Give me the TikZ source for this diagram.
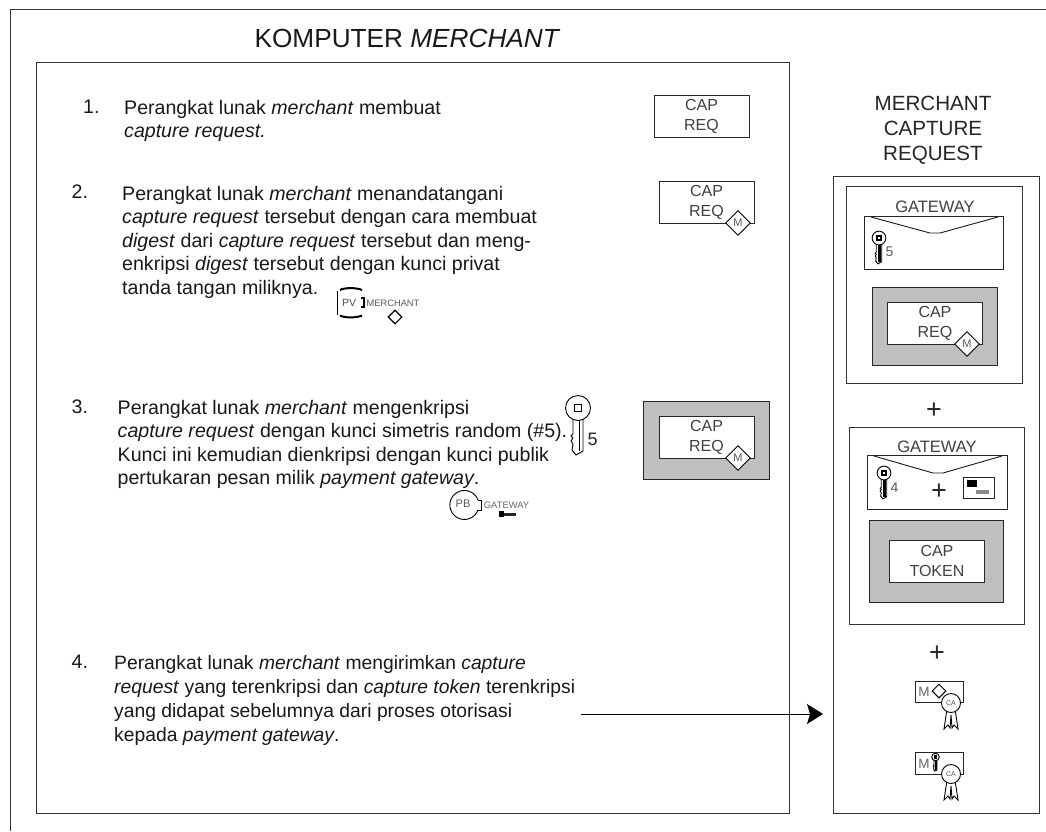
\documentclass[tikz,border=0pt]{standalone}
\usepackage{fontspec}
\setmainfont{Liberation Sans}
\usetikzlibrary{arrows.meta,shapes.geometric}
\tikzset{
  x=1pt,y=-1pt,
  frame/.style={draw=black!80,line width=1pt},
  body/.style={font=\fontsize{19.6}{23.4}\selectfont,align=left,anchor=north west,inner sep=0pt,text=black!90},
  num/.style={font=\fontsize{19.6}{23.4}\selectfont,anchor=west,inner sep=0pt,text=black!90},
  lab/.style={font=\fontsize{16.5}{20}\selectfont,align=center,inner sep=0pt,text=black!75},
  box/.style={draw=black!85,line width=.9pt,fill=white,minimum width=#1,inner sep=0pt},
  capbox/.style={draw=black!85,line width=.9pt,fill=white,inner sep=0pt,minimum width=95pt,minimum height=42pt,align=center,font=\fontsize{16}{20}\selectfont,text=black!75},
  shade/.style={draw=black!85,line width=.9pt,fill=black!25},
  sigmark/.style={diamond,aspect=1,draw=black,line width=.9pt,fill=white,inner sep=0pt,minimum size=25pt,font=\fontsize{11}{11}\selectfont,text=black!65},
  keyline/.style={draw=black,line width=.9pt,fill=white},
  plussign/.style={font=\fontsize{27}{27}\selectfont,text=black!85,inner sep=0pt},
}
% key: \keyicon{x}{y}{scale}{inner line width}
\newcommand{\keyicon}[4]{%
 \begin{scope}[shift={(#1,#2)},scale=#3]
  \draw[keyline] (-5,10) -- (-5,26) -- (-7,28) -- (-5,30) -- (-7,33) -- (-5,36) -- (-6,42) -- (-2,47) -- (5,43) -- (5,10) -- cycle;
  \draw[black,line width=#4] (1,12) -- (1,43);
  \draw[keyline] (0,0) circle (12.5);
  \draw[keyline,line width=1.2pt] (-3.5,-3.5) rectangle (3.5,3.5);
 \end{scope}}
\newcommand{\ribbon}[2]{%
 \begin{scope}[shift={(#1,#2)}]
  \draw[line width=.9pt,fill=white] (-4,6) -- (-7,26) -- (-3,22) -- (-1,25) -- (0,12) -- (1,25) -- (3,22) -- (7,26) -- (4,6) -- cycle;
 \end{scope}}
\begin{document}
\begin{tikzpicture}
\useasboundingbox (0,0) rectangle (1046,831);
\fill[white] (0,0) rectangle (1046,831);
% outer frame: left and top edges only
\draw[frame] (10,831) -- (10,9.5) -- (1046,9.5);
\node[font=\fontsize{26.2}{30}\selectfont,text=black!90,inner sep=0pt] (title) at (407.5,38) {KOMPUTER \textit{MERCHANT}};
\node[frame,minimum width=753pt,minimum height=751pt,anchor=north west,inner sep=0pt] (main) at (36,62) {};
% steps
\node[num] (n1) at (83,107) {1.};
\node[body] (t1) at (124,100) {Perangkat lunak \textit{merchant} membuat\\\textit{capture request.}};
\node[num] (n2) at (71.5,192) {2.};
\node[body] (t2) at (122,186) {Perangkat lunak \textit{merchant} menandatangani\\\textit{capture request} tersebut dengan cara membuat\\\textit{digest} dari \textit{capture request} tersebut dan meng-\\enkripsi \textit{digest} tersebut dengan kunci privat\\tanda tangan miliknya.};
\node[num] (n3) at (71.5,407) {3.};
\node[body] (t3) at (117.5,400) {Perangkat lunak \textit{merchant} mengenkripsi\\\textit{capture request} dengan kunci simetris random (\#5).\\Kunci ini kemudian dienkripsi dengan kunci publik\\pertukaran pesan milik \textit{payment gateway}.};
\node[num] (n4) at (71.5,662) {4.};
\node[body,font=\fontsize{19.3}{24}\selectfont] (t4) at (114,655) {Perangkat lunak \textit{merchant} mengirimkan \textit{capture}\\\textit{request} yang terenkripsi dan \textit{capture token} terenkripsi\\yang didapat sebelumnya dari proses otorisasi\\kepada \textit{payment gateway}.};
% PV icon
\draw[line width=2pt,black] (340,290) ..controls (344,287.5) and (357,287.5) .. (362,290);
\draw[line width=2pt,black] (340,315.5) ..controls (344,318) and (357,318) .. (362,315.5);
\draw[line width=1pt,black] (337.5,291) -- (337.5,315);
\draw[line width=1.3pt,black] (361,298) -- (364,298) -- (364,307) -- (361,307);
\node[font=\fontsize{10.5}{11}\selectfont,text=black!70,inner sep=0pt] (pv) at (349,303) {PV};
\node[font=\fontsize{9.3}{10}\selectfont,text=black!65,inner sep=0pt] (pvm) at (393,303.5) {MERCHANT};
\node[diamond,aspect=1,draw=black,line width=1.1pt,inner sep=0pt,minimum size=14pt] (pvd) at (395,317) {};
% PB icon
\draw[line width=.9pt,black] (478,500) arc[start angle=-20,end angle=-340,radius=14.5] ;
\draw[line width=.9pt,black] (478,500) -- (481,500) -- (481,510) -- (478,510);
\node[font=\fontsize{11}{12}\selectfont,text=black!65,inner sep=0pt] (pb) at (463,504) {PB};
\node[font=\fontsize{9.4}{10}\selectfont,text=black!60,inner sep=0pt] (pbg) at (506.5,505) {GATEWAY};
\fill[black] (499,510.5) rectangle (504,517);
\fill[black!85] (504,512.5) rectangle (516,516);
% key 5 in text
\keyicon{578}{408}{1}{.8pt}
\node[font=\fontsize{18}{18}\selectfont,text=black!85,inner sep=0pt] (k5) at (592.5,439) {5};
% step boxes
\node[capbox] (c1) at (701.5,116) {CAP\\REQ};
\node[capbox] (c2) at (706.5,202) {CAP\\REQ};
\node[sigmark] (s2) at (738,223) {M};
\node[shade,minimum width=126pt,minimum height=78pt,inner sep=0pt] (g3) at (706,440) {};
\node[capbox] (c3) at (706.5,437) {CAP\\REQ};
\node[sigmark] (s3) at (738,458) {M};
% right column title
\node[font=\fontsize{20.6}{25}\selectfont,align=center,text=black!85,inner sep=0pt] (mcr) at (933,130) {MERCHANT\\CAPTURE\\REQUEST};
\node[frame,minimum width=206pt,minimum height=637pt,anchor=north west,inner sep=0pt] (right) at (833,176) {};
% panel A
\node[frame,minimum width=176pt,minimum height=197pt,anchor=north west,inner sep=0pt] (pa) at (846,186) {};
\node[lab] (gw1) at (935,207) {GATEWAY};
\node[box=139pt,minimum height=53pt,anchor=north west] (env1) at (864,216) {};
\draw[line width=.9pt,black!90] ([shift={(7,1)}]env1.north west) -- ([shift={(66,17)}]env1.north west) -- ([shift={(76,17)}]env1.north west) -- ([shift={(-6,1)}]env1.north east);
\keyicon{879}{238}{.55}{2.2pt}
\node[font=\fontsize{14}{14}\selectfont,text=black!65,inner sep=0pt] (k51) at (889.5,252) {5};
\node[shade,minimum width=125pt,minimum height=78pt,anchor=north west,inner sep=0pt] (g1) at (872,287) {};
\node[capbox,anchor=north west] (c4) at (887,302) {CAP\\REQ};
\node[sigmark] (s4) at (967,344) {M};
\node[plussign] (plus1) at (934,411) {+};
% panel B
\node[frame,minimum width=175pt,minimum height=197pt,anchor=north west,inner sep=0pt] (pb2) at (849,427) {};
\node[lab] (gw2) at (937,447) {GATEWAY};
\node[box=140pt,minimum height=54pt,anchor=north west] (env2) at (867,455) {};
\draw[line width=.9pt,black!90] ([shift={(7,1)}]env2.north west) -- ([shift={(66,18)}]env2.north west) -- ([shift={(76,18)}]env2.north west) -- ([shift={(-6,1)}]env2.north east);
\keyicon{884}{473}{.55}{2.2pt}
\node[font=\fontsize{14}{14}\selectfont,text=black!65,inner sep=0pt] (k4) at (894.5,488) {4};
\node[plussign] (plus2) at (939,492) {+};
\node[box=31pt,minimum height=21pt,anchor=north west] (card) at (963,477) {};
\fill[black] (966.5,480) rectangle (977,486.5);
\fill[black!45] (976,490) rectangle (989,494);
\node[shade,minimum width=134pt,minimum height=82pt,anchor=north west,inner sep=0pt] (g2) at (869,520) {};
\node[capbox,anchor=north west] (c5) at (889,540) {CAP\\TOKEN};
\node[plussign] (plus3) at (937,654) {+};
% certificates
\node[box=48pt,minimum height=21.5pt,anchor=north west] (ce1) at (915,680.5) {};
\node[font=\fontsize{13.5}{14}\selectfont,text=black!60,inner sep=0pt] (cm1) at (924,692) {M};
\node[diamond,aspect=1,draw=black,line width=1pt,fill=white,inner sep=0pt,minimum size=14pt] (cd1) at (939,691) {};
\ribbon{951}{703}
\node[circle,draw=black,line width=.9pt,fill=white,minimum size=19pt,inner sep=0pt,font=\fontsize{7}{7}\selectfont,text=black!65] (ca1) at (951,703) {CA};
\node[box=48pt,minimum height=22pt,anchor=north west] (ce2) at (915,752) {};
\node[font=\fontsize{13.5}{14}\selectfont,text=black!60,inner sep=0pt] (cm2) at (924,763.5) {M};
\keyicon{935.5}{757}{.3}{2pt}
\ribbon{951}{774}
\node[circle,draw=black,line width=.9pt,fill=white,minimum size=19pt,inner sep=0pt,font=\fontsize{7}{7}\selectfont,text=black!65] (ca2) at (951,774) {CA};
% arrow
\coordinate (astart) at (581,714);
\coordinate (aend) at (823,714);
\draw[black,line width=1pt,-{Stealth[length=16pt,width=20pt,inset=3pt]}] (astart) -- (aend);
\end{tikzpicture}
\end{document}
